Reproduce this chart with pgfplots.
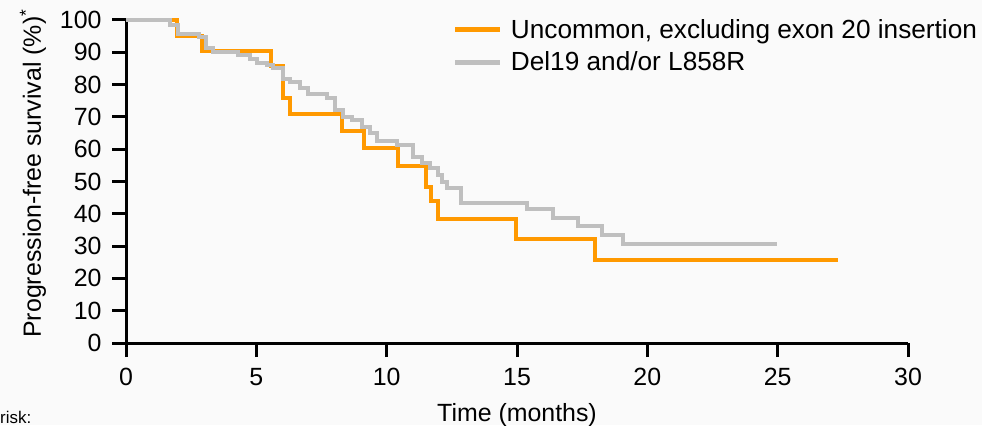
\documentclass[border=0pt]{standalone}
\usepackage{pgfplots}
\pgfplotsset{compat=1.18}
\usepackage{fontspec}
\setmainfont{Liberation Sans}
\definecolor{korange}{RGB}{255,153,0}
\definecolor{kgray}{RGB}{191,191,191}
\definecolor{bg}{RGB}{250,250,250}
\begin{document}
\begin{tikzpicture}[x=1bp,y=1bp]
\fill[bg] (0,0) rectangle (982,425);
\path[use as bounding box] (0,0) rectangle (982,425);
\begin{axis}[
  at={(126bp,82bp)}, anchor=south west,
  scale only axis, width=782bp, height=323bp,
  xmin=0, xmax=30, ymin=0, ymax=100,
  axis x line=bottom, axis y line=left,
  axis line style={line width=3bp, -},
  xtick={0,5,...,30}, ytick={0,10,...,100},
  tick align=outside, major tick length=14bp,
  tick style={line width=3bp, black},
  /pgf/number format/assume math mode=true,
  ticklabel style={font=\fontsize{25}{29}\selectfont},
  xticklabel style={yshift=-8bp},
  yticklabel style={xshift=-7bp},
  xlabel={Time (months)},
  ylabel={Progression-free survival (\%)\textsuperscript{*}},
  label style={font=\fontsize{25}{29}\selectfont},
  xlabel style={at={(axis description cs:0.5,-0.2437)}, anchor=base},
  ylabel style={at={(axis description cs:-0.119,0.525)}, anchor=center},
  legend style={at={(0.414,1.015)}, anchor=north west, draw=none, fill=none,
    font=\fontsize{26.3}{31}\selectfont, row sep=8bp,
    /tikz/every odd column/.style={column sep=6bp}},
  legend cell align=left,
  legend image code/.code={\draw[#1, line width=5bp] (0bp,0bp) -- (45bp,0bp);},
  clip=false,
]
\addplot[const plot, korange, line width=4bp] coordinates {
(0,100) (1.95,95.2) (2.9,90.5) (5.55,85.7) (6.02,76.0) (6.3,70.8)
(8.3,65.6) (9.13,60.3) (10.42,54.8) (11.5,48.4) (11.7,43.9)
(11.95,38.5) (14.95,32.1) (18.0,25.8) (27.3,25.8)
};
\addlegendentry{Uncommon, excluding exon 20 insertion}
\addplot[const plot, kgray, line width=4bp] coordinates {
(0,100) (1.69,98.5) (2.01,95.7) (2.80,94.8) (3.06,91.2) (3.35,90.0)
(4.31,89.2) (4.76,87.8) (5.01,86.8) (5.40,86.1) (5.65,85.0)
(6.03,81.6) (6.29,80.9) (6.67,78.9) (6.99,77.1) (7.70,75.8)
(8.02,72.1) (8.33,70.1) (8.66,69.0) (9.04,67.0) (9.36,64.9)
(9.62,62.6) (10.38,61.3) (11.02,57.5) (11.34,55.8) (11.66,54.1)
(11.95,52.0) (12.11,49.9) (12.30,47.9) (12.85,43.4) (15.37,41.4)
(16.39,38.6) (17.35,36.2) (18.25,33.4) (19.08,30.6) (24.98,30.6)
};
\addlegendentry{Del19 and/or L858R}
\end{axis}
\node[anchor=base west, inner sep=0pt, font=\fontsize{17}{20}\selectfont] at (0,2) {risk:};
\end{tikzpicture}
\end{document}
